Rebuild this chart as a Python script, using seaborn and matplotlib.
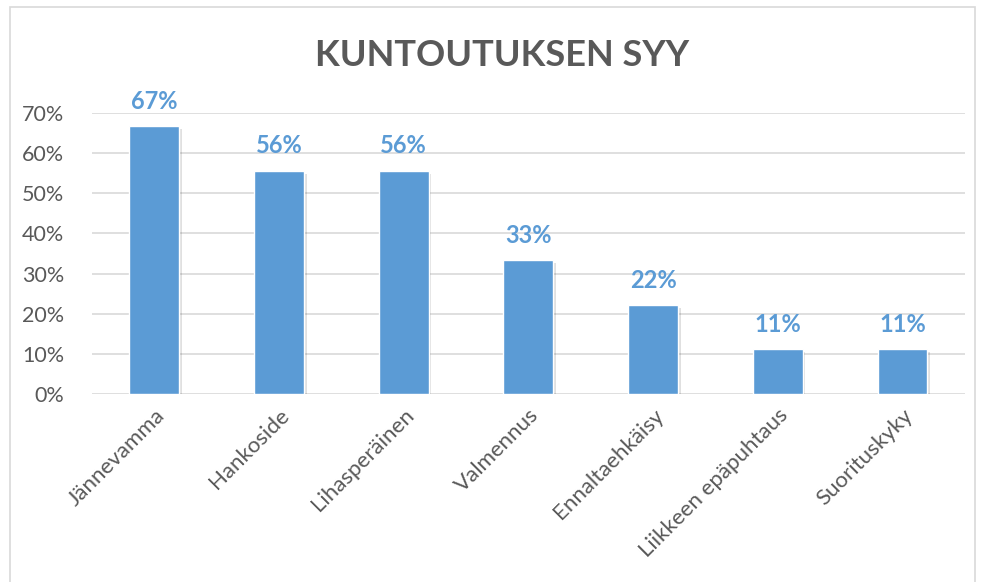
import matplotlib.pyplot as plt
import matplotlib.patches as patches
import matplotlib.patheffects as PathEffects
import seaborn as sns
import pandas as pd

# data (shares of respondents, %)
categories = ['Jännevamma', 'Hankoside', 'Lihasperäinen', 'Valmennus',
              'Ennaltaehkäisy', 'Liikkeen epäpuhtaus', 'Suorituskyky']
values = [66.7, 55.6, 55.6, 33.3, 22.2, 11.1, 11.1]
yticks = [0, 10, 20, 30, 40, 50, 60, 70]

df = pd.DataFrame({'syy': categories, 'osuus': values})

sns.set_style('white')
plt.rcParams['font.family'] = ['Lato', 'DejaVu Sans']

blue = '#5B9BD5'
grey = '#595959'

fig = plt.figure(figsize=(9.84, 5.82), dpi=100)
ax = fig.add_axes([0.0935, 0.323, 0.887, 0.483])

# chart border like the Excel chart area
fig.patches.append(patches.Rectangle((10 / 984, -0.01), (975 - 10) / 984, 1 - 7 / 582 + 0.01,
                                     transform=fig.transFigure, fill=False,
                                     edgecolor='#D9D9D9', linewidth=1.2))

sns.barplot(data=df, x='syy', y='osuus', color=blue, width=0.4, saturation=1,
            ax=ax, zorder=3)
for bar in ax.patches:
    bar.set_path_effects([PathEffects.SimplePatchShadow(offset=(2, -2), alpha=0.12,
                                                        shadow_rgbFace='black'),
                          PathEffects.Normal()])

for i, v in enumerate(values):
    ax.text(i, v + 3.3, '{:.0f}%'.format(v), ha='center', va='bottom',
            color=blue, fontsize=17, fontweight='bold')

ax.set_ylim(0, 70)
ax.set_xlim(-0.5, len(categories) - 0.5)
ax.set_yticks(yticks)
ax.set_yticklabels(['{}%'.format(t) for t in yticks], color=grey, fontsize=15.5)
ax.yaxis.grid(True, color='#D9D9D9', linewidth=1.2, zorder=0)
ax.set_axisbelow(True)
ax.tick_params(axis='y', length=0, pad=20)
ax.tick_params(axis='x', length=0, pad=8)
plt.setp(ax.get_xticklabels(), rotation=45, ha='right', rotation_mode='anchor',
         color=grey, fontsize=16)
ax.set_xlabel('')
ax.set_ylabel('')
sns.despine(ax=ax, left=True, top=True, right=True, bottom=True)

fig.text(0.51, 0.905, 'KUNTOUTUKSEN SYY', ha='center', va='center',
         fontsize=26, fontweight='bold', color=grey)

plt.savefig('out.png', dpi=100)
